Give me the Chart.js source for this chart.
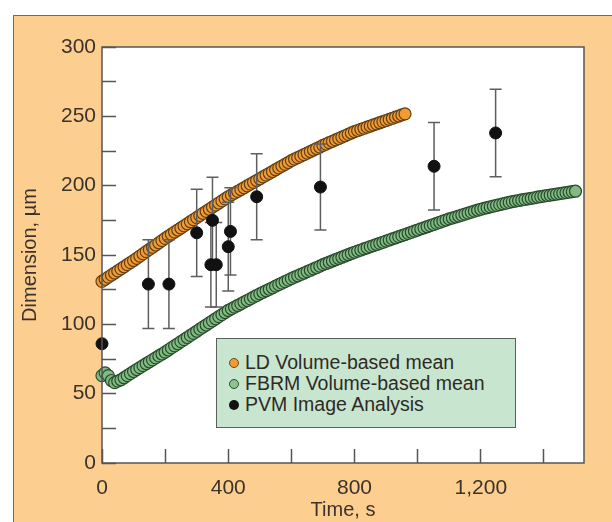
<!DOCTYPE html>
<html>
<head>
<meta charset="utf-8">
<script src="https://cdn.jsdelivr.net/npm/chart.js@4"></script>
<style>
  html, body { margin: 0; padding: 0; background: #fff; width: 612px; height: 522px; overflow: hidden; }
  #panel { position: absolute; left: 13px; top: 15px; width: 620px; height: 520px; background: #fccf90; border: 1px solid #6e6a66; }
  #chart { position: absolute; left: 0; top: 0; }
  #legend { position: absolute; left: 216px; top: 338px; width: 298px; height: 88px; background: #c8e5cf; border: 1.5px solid #56625a;
            font-family: "Liberation Sans", Arial, sans-serif; font-size: 19.5px; color: #2f2a26; }
  #legend div { position: absolute; left: 12px; height: 21px; line-height: 21px; white-space: nowrap; }
  #legend span { display: inline-block; width: 10px; height: 10px; border-radius: 50%; margin-right: 6px; vertical-align: 1px; box-sizing: border-box; }
</style>
</head>
<body>
<div id="panel"></div>
<canvas id="chart" width="612" height="522"></canvas>
<div id="legend">
  <div style="top:13px"><span style="background:#f39a32;border:1px solid #6b4a1e"></span>LD Volume-based mean</div>
  <div style="top:34px"><span style="background:#8cc48f;border:1px solid #2e4f30"></span>FBRM Volume-based mean</div>
  <div style="top:55px"><span style="background:#111"></span>PVM Image Analysis</div>
</div>
<script>
// time grid of the two continuous measurements, s
var timeS = [0,10,20,30,40,50,60,70,80,90,
    100,110,120,130,140,150,160,170,180,190,
    200,210,220,230,240,250,260,270,280,290,
    300,310,320,330,340,350,360,370,380,390,
    400,410,420,430,440,450,460,470,480,490,
    500,510,520,530,540,550,560,570,580,590,
    600,610,620,630,640,650,660,670,680,690,
    700,710,720,730,740,750,760,770,780,790,
    800,810,820,830,840,850,860,870,880,890,
    900,910,920,930,940,950,960,970,980,990,
    1000,1010,1020,1030,1040,1050,1060,1070,1080,1090,
    1100,1110,1120,1130,1140,1150,1160,1170,1180,1190,
    1200,1210,1220,1230,1240,1250,1260,1270,1280,1290,
    1300,1310,1320,1330,1340,1350,1360,1370,1380,1390,
    1400,1410,1420,1430,1440,1450,1460,1470,1480,1490,
    1500]

// LD volume-based mean, um (0..960 s)
var ldMean = [131,132.5,134,135.5,137,138.5,140,141.5,143,144.5,
    146,147.6,149.2,150.8,152.4,154,155.6,157.2,158.8,160.4,
    162,163.5,165,166.5,168,169.5,171,172.5,174,175.5,
    177,178.5,180,181.5,183,184.5,186,187.5,189,190.5,
    192,193.3,194.6,195.9,197.2,198.5,199.8,201.1,202.4,203.7,
    205,206.3,207.6,208.9,210.2,211.5,212.8,214.1,215.4,216.7,
    218,219.1,220.2,221.3,222.4,223.5,224.6,225.7,226.8,227.9,
    229,230,231,232,233,234,235,236,237,238,
    239,239.8,240.6,241.4,242.2,243,243.8,244.6,245.4,246.2,
    247,247.8,248.6,249.4,250.2,251,251.8]

// FBRM volume-based mean, um (0..1500 s)
var fbrmMean = [63,65,63,59.5,58,59,60,61.5,63,64.5,
    66,67.4,68.8,70.2,71.6,73,74.4,75.8,77.2,78.6,
    80,81.5,83,84.5,86,87.5,89,90.5,92,93.5,
    95,96.5,98,99.5,101,102.5,104,105.5,107,108.5,
    110,111.2,112.4,113.6,114.8,116,117.2,118.4,119.6,120.8,
    122,123.1,124.2,125.3,126.4,127.5,128.6,129.7,130.8,131.9,
    133,134,135,136,137,138,139,140,141,142,
    143,143.9,144.8,145.7,146.6,147.5,148.4,149.3,150.2,151.1,
    152,152.8,153.6,154.4,155.2,156,156.8,157.6,158.4,159.2,
    160,160.8,161.6,162.4,163.2,164,164.8,165.6,166.4,167.2,
    168,168.8,169.6,170.4,171.2,172,172.8,173.6,174.4,175.2,
    176,176.7,177.4,178.1,178.8,179.5,180.2,180.9,181.6,182.3,
    183,183.6,184.1,184.7,185.2,185.8,186.3,186.9,187.4,188,
    188.5,188.9,189.3,189.7,190.1,190.5,190.9,191.3,191.7,192.1,
    192.5,192.9,193.2,193.6,193.9,194.3,194.6,195,195.3,195.7,
    196]

// PVM image analysis points with error bars
var pvmTime = [0, 147, 212, 300, 345, 350, 362, 400, 407, 490, 692, 1052, 1247]
var pvmMean = [86, 129, 129, 166, 143, 175, 143, 156, 167, 192, 199, 214, 238]
var pvmErr  = [0, 32, 32, 31.5, 30.5, 31, 30.5, 32, 31.5, 31, 31, 31.5, 31.5]

var ldData = ldMean.map(function (v, i) { return { x: timeS[i], y: v } })
var fbrmData = fbrmMean.map(function (v, i) { return { x: timeS[i], y: v } })
var pvmData = pvmMean.map(function (v, i) { return { x: pvmTime[i], y: v, err: pvmErr[i] } })

var textColor = '#3b332b'
var axisColor = '#555'

// white plot area and the frame round it
var plotFrame = {
    id: 'plotFrame',
    beforeDraw: function (chart) {
        var a = chart.chartArea, c = chart.ctx
        c.save()
        c.fillStyle = '#fff'
        c.fillRect(a.left, a.top, a.right - a.left, a.bottom - a.top)
        c.restore()
    },
    afterDraw: function (chart) {
        var a = chart.chartArea, c = chart.ctx
        c.save()
        c.strokeStyle = axisColor
        c.lineWidth = 1.5
        c.strokeRect(a.left, a.top, a.right - a.left, a.bottom - a.top)
        c.restore()
    }
}

// vertical error bars for the PVM set
var errorBars = {
    id: 'errorBars',
    beforeDatasetDraw: function (chart, args) {
        var ds = chart.data.datasets[args.index]
        if (!ds.errorBars) return
        var xs = chart.scales.x, ys = chart.scales.y, c = chart.ctx
        c.save()
        c.strokeStyle = '#5e5e5e'
        c.lineWidth = 1.5
        ds.data.forEach(function (p) {
            if (!p.err) return
            var x = xs.getPixelForValue(p.x)
            var y1 = ys.getPixelForValue(p.y + p.err)
            var y2 = ys.getPixelForValue(p.y - p.err)
            c.beginPath()
            c.moveTo(x, y1); c.lineTo(x, y2)
            c.moveTo(x - 6, y1); c.lineTo(x + 6, y1)
            c.moveTo(x - 6, y2); c.lineTo(x + 6, y2)
            c.stroke()
        })
        c.restore()
    }
}

const ctx = document.getElementById('chart');
new Chart(ctx, {
    type: 'line',
    data: {
        datasets: [{
            label: 'PVM Image Analysis',
            data: pvmData,
            errorBars: true,
            showLine: false,
            pointRadius: 6,
            pointBackgroundColor: '#111',
            pointBorderColor: '#111',
            pointBorderWidth: 1,
            order: 0,
            clip: false
        }, {
            label: 'LD Volume-based mean',
            data: ldData,
            showLine: false,
            pointRadius: 6,
            pointBackgroundColor: '#f39a32',
            pointBorderColor: '#5e3f16',
            pointBorderWidth: 1.2,
            order: 1,
            clip: false
        }, {
            label: 'FBRM Volume-based mean',
            data: fbrmData,
            showLine: false,
            pointRadius: 6,
            pointBackgroundColor: '#7fbb82',
            pointBorderColor: '#2a4a2c',
            pointBorderWidth: 1.2,
            order: 2,
            clip: false
        }]
    },
    options: {
        responsive: false,
        animation: false,
        layout: { padding: { left: 0, right: 28, top: 47, bottom: 0 } },
        scales: {
            x: {
                type: 'linear',
                min: 0,
                max: 1527,
                afterFit: function (s) { s.height = 59 },
                border: { display: false },
                grid: { drawOnChartArea: false, drawTicks: true, tickLength: -14, tickColor: axisColor, tickWidth: 1.5 },
                ticks: {
                    stepSize: 200,
                    includeBounds: false,
                    autoSkip: false,
                    maxRotation: 0,
                    padding: 27,
                    color: textColor,
                    font: { family: 'Liberation Sans', size: 21 },
                    callback: function (v) { return v % 400 === 0 ? v.toLocaleString('en-US') : '' }
                },
                title: {
                    display: true,
                    text: 'Time, s',
                    color: textColor,
                    padding: { top: 0, bottom: 0 },
                    font: { family: 'Liberation Sans', size: 20 }
                }
            },
            y: {
                min: 0,
                max: 300,
                afterFit: function (s) { s.width = 102 },
                border: { display: false },
                grid: { drawOnChartArea: false, drawTicks: true, tickLength: -14, tickColor: axisColor, tickWidth: 1.5 },
                ticks: {
                    stepSize: 25,
                    autoSkip: false,
                    padding: 20,
                    color: textColor,
                    font: { family: 'Liberation Sans', size: 21 },
                    callback: function (v) { return v % 50 === 0 ? v : '' }
                },
                title: {
                    display: true,
                    text: 'Dimension, µm',
                    color: textColor,
                    padding: { top: 18, bottom: 0 },
                    font: { family: 'Liberation Sans', size: 20 }
                }
            }
        },
        plugins: {
            legend: { display: false },
            tooltip: { enabled: false }
        }
    },
    plugins: [plotFrame, errorBars]
});
</script>
</body>
</html>
